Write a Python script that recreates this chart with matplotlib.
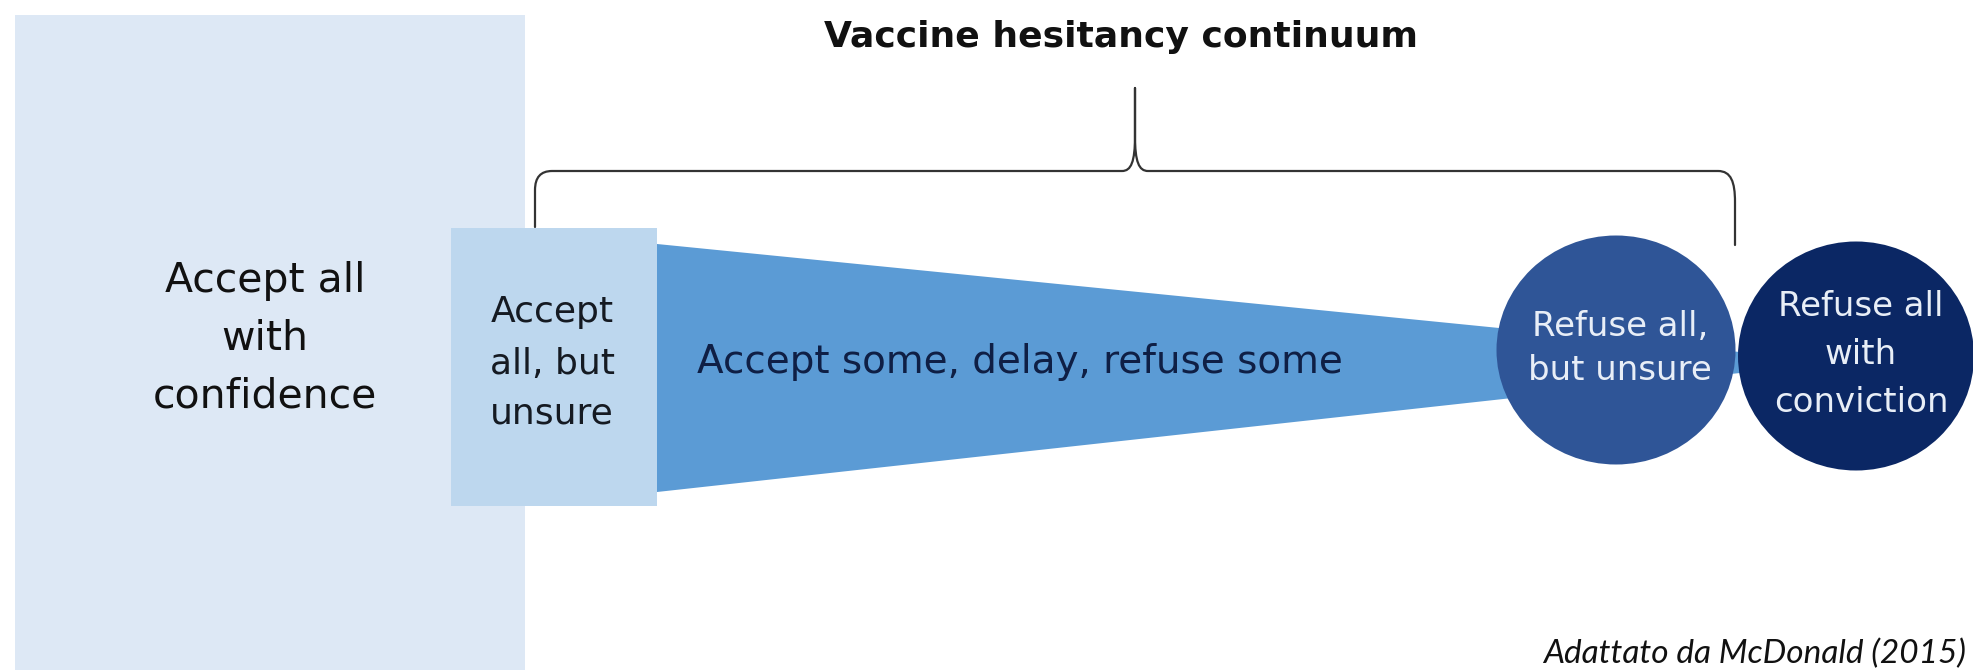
import matplotlib
matplotlib.use("Agg")
import matplotlib.pyplot as plt
from matplotlib.patches import Rectangle, Polygon, Ellipse, PathPatch
from matplotlib.path import Path

# ---- content ----
title = "Vaccine hesitancy continuum"
stage_labels = [
    "Accept all\nwith\nconfidence",
    "Accept\nall, but\nunsure",
    "Accept some, delay, refuse some",
    "Refuse all,\nbut unsure",
    "Refuse all\nwith\nconviction",
]
stage_colors = ["#dde8f5", "#bdd7ee", "#5b9bd5", "#2f5597", "#0b2764"]
text_colors = ["#111111", "#151a22", "#0f1f45", "#e8eef7", "#e8eef7"]
source_note = "Adattato da McDonald (2015)"

W, H = 1974, 670
fig = plt.figure(figsize=(W / 100, H / 100), dpi=100)
ax = fig.add_axes([0, 0, 1, 1])
ax.set_xlim(0, W)
ax.set_ylim(H, 0)
ax.axis("off")

# big rectangle: accept all with confidence
ax.add_patch(Rectangle((15, 15), 510, 670, facecolor=stage_colors[0], edgecolor="none", zorder=1))
# wedge: accept some, delay, refuse some
ax.add_patch(Polygon([(657, 244), (1840, 362), (657, 492)], closed=True,
                     facecolor=stage_colors[2], edgecolor="none", zorder=2))
# small rectangle: accept all but unsure
ax.add_patch(Rectangle((451, 228), 206, 278, facecolor=stage_colors[1], edgecolor="none", zorder=3))
# circles
ax.add_patch(Ellipse((1616, 350), 239, 229, facecolor=stage_colors[3], edgecolor="none", zorder=4))
ax.add_patch(Ellipse((1856, 356), 236, 229, facecolor=stage_colors[4], edgecolor="none", zorder=5))

# curly brace
verts = [
    (535, 227), (535, 190),
    (535, 171), (552, 171),
    (1122, 171),
    (1131, 171), (1135, 162), (1135, 136),
    (1135, 88),
    (1135, 136),
    (1135, 162), (1139, 171), (1148, 171),
    (1718, 171),
    (1731, 171), (1735, 182), (1735, 202),
    (1735, 245),
]
codes = [
    Path.MOVETO, Path.LINETO,
    Path.CURVE3, Path.CURVE3,
    Path.LINETO,
    Path.CURVE4, Path.CURVE4, Path.CURVE4,
    Path.LINETO,
    Path.LINETO,
    Path.CURVE4, Path.CURVE4, Path.CURVE4,
    Path.LINETO,
    Path.CURVE4, Path.CURVE4, Path.CURVE4,
    Path.LINETO,
]
ax.add_patch(PathPatch(Path(verts, codes), facecolor="none", edgecolor="#333333",
                       lw=1.6, zorder=2.5, capstyle="round", joinstyle="round"))

# texts
fam = ["DejaVu Sans"]
ax.text(1121, 37, title, ha="center", va="center", fontsize=26, fontweight="bold",
        color="#111111", family=fam, zorder=6)

def lines(x, ys, label, size, color):
    for y, t in zip(ys, label.split("\n")):
        ax.text(x, y, t, ha="center", va="center", fontsize=size, color=color,
                family=fam, zorder=6)

lines(265, [281, 339, 396], stage_labels[0], 29.5, text_colors[0])
lines(552, [312, 364, 414], stage_labels[1], 26, text_colors[1])
lines(1020, [362], stage_labels[2], 28, text_colors[2])
lines(1620, [326, 371], stage_labels[3], 24.5, text_colors[3])
lines(1861, [306, 354, 402], stage_labels[4], 24.5, text_colors[4])

ax.text(1966, 654, source_note, ha="right", va="center", fontsize=24,
        style="italic", family=["Lato", "DejaVu Sans"], color="#111111", zorder=6)

fig.savefig("out.png", dpi=100, facecolor="white")
